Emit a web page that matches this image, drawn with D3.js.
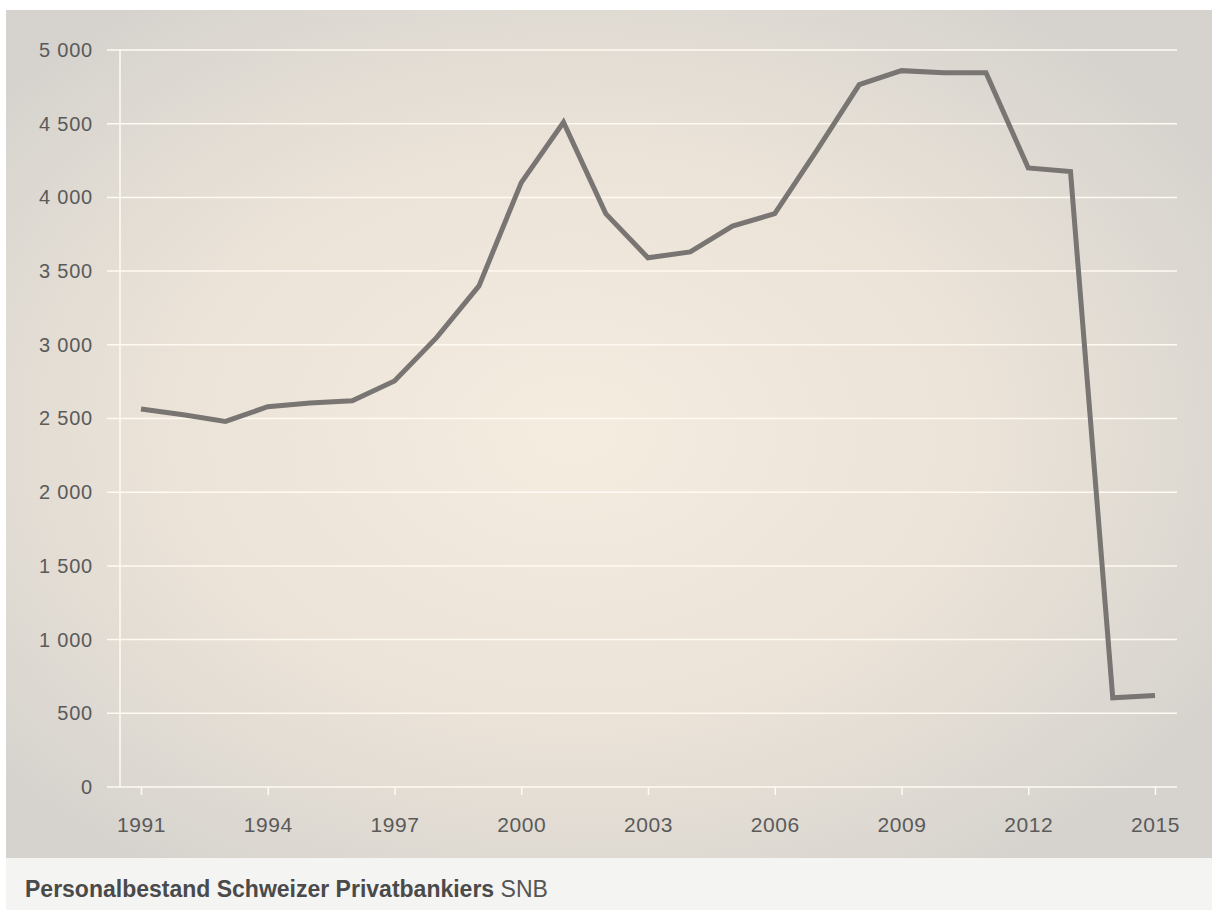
<!DOCTYPE html>
<html><head><meta charset="utf-8">
<script src="https://cdn.jsdelivr.net/npm/d3@7"></script>
<style>
html,body{margin:0;padding:0;background:#fff;}
svg{display:block;font-family:"Liberation Sans",Arial,sans-serif;}
</style></head>
<body>
<svg id="c" width="1212" height="910"></svg>
<script>
const years = [1991,1992,1993,1994,1995,1996,1997,1998,1999,2000,2001,2002,2003,2004,2005,2006,2007,2008,2009,2010,2011,2012,2013,2014,2015];
const staff = [2565,2525,2480,2580,2605,2620,2755,3050,3400,4100,4510,3890,3590,3630,3805,3890,4320,4765,4860,4845,4845,4200,4175,605,620];
const yTicks = [0,500,1000,1500,2000,2500,3000,3500,4000,4500,5000];
const xTicks = [1991,1994,1997,2000,2003,2006,2009,2012,2015];
const captionBold = "Personalbestand Schweizer Privatbankiers";
const captionSource = "SNB";

const svg = d3.select("#c");
const defs = svg.append("defs");
const grad = defs.append("radialGradient").attr("id","bg")
  .attr("cx","0.47").attr("cy","0.5").attr("r","0.62");
grad.append("stop").attr("offset","0").attr("stop-color","#f5ece0");
grad.append("stop").attr("offset","0.55").attr("stop-color","#ebe3d8");
grad.append("stop").attr("offset","1").attr("stop-color","#d6d3ce");

svg.append("rect").attr("x",6).attr("y",10).attr("width",1206).attr("height",848).attr("fill","url(#bg)");
svg.append("rect").attr("x",6).attr("y",858).attr("width",1206).attr("height",52).attr("fill","#f4f4f2");

const x = d3.scaleLinear().domain([1991,2015]).range([141,1155]);
const y = d3.scaleLinear().domain([0,5000]).range([787,50]);

// y axis labels
const yAxis = d3.axisLeft(y).tickValues(yTicks).tickSize(0).tickPadding(14)
  .tickFormat(v => v >= 1000 ? Math.floor(v/1000) + " " + d3.format("03")(v%1000) : String(v));
const gy = svg.append("g").attr("transform","translate(107,0)").call(yAxis);
gy.select(".domain").remove();
gy.selectAll("text").attr("fill","#5a5a5a").style("font-size","20px").style("letter-spacing","0.8px");

// grid
svg.append("g").selectAll("line").data(yTicks).join("line")
  .attr("x1",107).attr("x2",1177)
  .attr("y1",d=>y(d)).attr("y2",d=>y(d))
  .attr("stroke","#fffaf2").attr("stroke-width",1.5);

// vertical axis line
svg.append("line").attr("x1",120).attr("x2",120).attr("y1",50).attr("y2",787)
  .attr("stroke","#fffaf2").attr("stroke-width",1.5);

// x axis
const xAxis = d3.axisBottom(x).tickValues(xTicks).tickSize(8).tickPadding(22).tickFormat(d3.format("d"));
const gx = svg.append("g").attr("transform","translate(0,787)").call(xAxis);
gx.select(".domain").remove();
gx.selectAll("line").attr("stroke","#fffaf2").attr("stroke-width",1.5);
gx.selectAll("text").attr("fill","#5a5a5a").style("font-size","21px").style("letter-spacing","0.6px");

// line
const line = d3.line().x((d,i)=>x(years[i])).y(d=>y(d));
svg.append("path").datum(staff).attr("d",line)
  .attr("fill","none").attr("stroke","#787573").attr("stroke-width",5)
  .attr("stroke-linejoin","miter").attr("stroke-linecap","butt");

// caption
const cap = svg.append("text").attr("x",25).attr("y",897).style("font-size","23px").attr("fill","#4a4a4a");
cap.append("tspan").attr("font-weight","bold").text(captionBold);
cap.append("tspan").attr("fill","#555").text(" " + captionSource);
</script>
</body></html>
